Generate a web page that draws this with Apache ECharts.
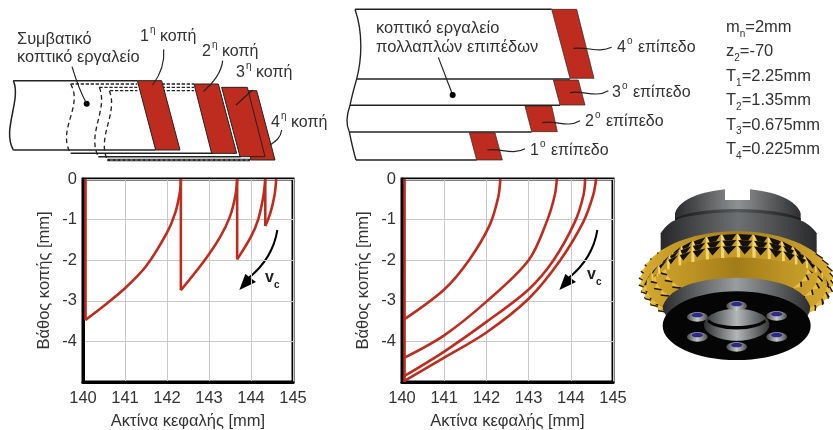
<!DOCTYPE html>
<html><head><meta charset="utf-8">
<style>html,body{margin:0;padding:0;background:#fff}#c{width:833px;height:430px}</style>
<script src="https://cdn.jsdelivr.net/npm/echarts@6/dist/echarts.min.js"></script>
</head><body><div id="c"></div>
<script>
// ----- data -----
const xTickLabels = ['140','141','142','143','144','145'];
const yTickLabels = ['0','-1','-2','-3','-4',''];
const xTitle = 'Ακτίνα κεφαλής [mm]';
const yTitle = 'Βάθος κοπής [mm]';

const edge = [[140.06,0],[140.06,-3.48]];
const edgeFull = [[140.06,0],[140.06,-5]];
const dropA2 = [[142.33,0],[142.33,-2.74]];
const dropA3 = [[143.67,0],[143.67,-1.98]];
const dropA4 = [[144.34,0],[144.34,-1.16]];
const cutA1 = [[140.06,-3.47],[140.5,-3.12],[141,-2.69],[141.5,-2.15],[142,-1.32],[142.2,-0.82],[142.31,-0.3],[142.33,0]];
const cutA2 = [[142.33,-2.74],[142.87,-2.04],[143.27,-1.42],[143.5,-0.92],[143.63,-0.4],[143.67,0]];
const cutA3 = [[143.67,-1.98],[144,-1.42],[144.17,-1],[144.29,-0.45],[144.34,0]];
const cutA4 = [[144.34,-1.16],[144.46,-0.84],[144.56,-0.4],[144.6,0]];

const levelB1 = [[140.06,-3.45],[141,-2.72],[141.6,-1.98],[142.08,-1.13],[142.28,-0.45],[142.33,0]];
const levelB2 = [[140.06,-4.4],[141,-3.85],[142,-3.02],[143,-2],[143.43,-1.05],[143.62,-0.4],[143.67,0]];
const levelB3 = [[140.06,-4.85],[141,-4.25],[142,-3.52],[143,-2.72],[143.59,-2],[144.1,-1.05],[144.3,-0.4],[144.34,0]];
const levelB4 = [[140.06,-4.97],[141,-4.4],[142,-3.78],[143,-2.95],[143.75,-2],[144.3,-1.05],[144.53,-0.4],[144.6,0]];

const seriesLeft = [edge, dropA2, dropA3, dropA4, cutA1, cutA2, cutA3, cutA4];
const seriesRight = [edgeFull, levelB1, levelB2, levelB3, levelB4];
const paramRows = [['m','n','=2mm'],['z','2','=-70'],['T','1','=2.25mm'],['T','2','=1.35mm'],['T','3','=0.675mm'],['T','4','=0.225mm']];

// ----- styles -----
const FONT = '"Liberation Sans", Arial, sans-serif';
const RED = '#bd2c1e', INK = '#333333';
const chart = echarts.init(document.getElementById('c'), null, {renderer:'canvas'});

const grids = [{left:83,top:179,width:210,height:203},{left:402,top:179,width:211,height:203}];
function mkX(i){return {gridIndex:i,type:'value',min:140,max:145,interval:1,
  axisLine:{show:true,onZero:false,lineStyle:{color:'#000',width:3}},axisTick:{show:false},
  splitLine:{show:true,lineStyle:{color:'#c9c9c9',width:1}},
  axisLabel:{color:INK,fontFamily:FONT,fontSize:16.5,margin:8,formatter:(v)=>xTickLabels[Math.round(v-140)]},
  name:xTitle,nameLocation:'middle',nameGap:31,nameTextStyle:{color:INK,fontFamily:FONT,fontSize:16.5}};}
function mkY(i){return {gridIndex:i,type:'value',min:-5,max:0,interval:1,
  axisLine:{show:true,onZero:false,lineStyle:{color:'#000',width:3}},axisTick:{show:false},
  splitLine:{show:true,lineStyle:{color:'#c9c9c9',width:1}},
  axisLabel:{color:INK,fontFamily:FONT,fontSize:16.5,margin:6,showMinLabel:true,formatter:(v)=>yTickLabels[Math.round(-v)]},
  name:yTitle,nameLocation:'middle',nameGap:30,nameRotate:90,nameTextStyle:{color:INK,fontFamily:FONT,fontSize:16.5}};}
function mkSeries(arr,i){return arr.map(d=>({type:'line',xAxisIndex:i,yAxisIndex:i,data:d,showSymbol:false,smooth:d.length>2?0.33:false,
  lineStyle:{color:RED,width:2.6},silent:true,z:3,clip:false,animation:false}));}

// ----- illustration helpers (decoration, not data) -----
const g = [];
function scaled(ox,oy,children,z){ g.push({type:'group',x:ox,y:oy,scaleX:1/3,scaleY:1/3,children,z:z||10}); }
const poly=(pts,fill,stroke,lw)=>({type:'polygon',shape:{points:pts},style:{fill:fill||'none',stroke:stroke||null,lineWidth:lw||0}});
const line=(pts,stroke,lw,dash)=>({type:'polyline',shape:{points:pts},style:{fill:'none',stroke:stroke||'#222',lineWidth:lw||4.5,lineDash:dash||null}});
const bez=(a,c1,c2,b,stroke,lw,dash)=>({type:'bezierCurve',shape:{x1:a[0],y1:a[1],cpx1:c1[0],cpy1:c1[1],cpx2:c2[0],cpy2:c2[1],x2:b[0],y2:b[1]},style:{fill:'none',stroke:stroke||'#222',lineWidth:lw||3.5,lineDash:dash||null}});
const dot=(x,y,r)=>({type:'circle',shape:{cx:x,cy:y,r:r||9},style:{fill:'#000'}});
function outline(cmds,fill){
  const pts=[]; let cur=null;
  cmds.forEach(c=>{
    if(c.length===2){cur=c;pts.push(c);}
    else{ for(let s=1;s<=14;s++){const t=s/14,u=1-t;
      pts.push([u*u*u*cur[0]+3*u*u*t*c[0]+3*u*t*t*c[2]+t*t*t*c[4],u*u*u*cur[1]+3*u*u*t*c[1]+3*u*t*t*c[3]+t*t*t*c[5]]);}
      cur=[c[4],c[5]]; }
  });
  return poly(pts,fill);
}
function label(x,y,rich){ g.push({type:'text',x,y,z:20,style:Object.assign({font:'16.4px '+FONT,fill:INK,verticalAlign:'middle'},rich)}); }
const ord=(n,s,w,gap)=>({text:`{a|${n}}{s|${s}}{a|${w}}`,rich:{a:{font:'16px '+FONT,fill:INK,lineHeight:20,verticalAlign:'bottom'},s:{font:'10px '+FONT,fill:INK,verticalAlign:'top',lineHeight:20,padding:[0,gap,0,1]}}});

// left schematic (coordinates in 3x space)
const D=[14,10];
scaled(0,0,[
 line([[40,242],[412,242]]), line([[40,450],[467,450]]),
 bez([40,242],[65,300],[5,390],[40,450],'#222',4.5),
 line([[212,252],[412,252]],'#222',4,[10,5]), line([[485,252],[582,252]],'#222',4,[10,5]),
 line([[298,262],[412,262]],'#222',4,[10,5]), line([[485,262],[582,262]],'#222',4,[10,5]),
 line([[330,272],[412,272]],'#222',4,[10,5]), line([[485,272],[582,272]],'#222',4,[10,5]),
 bez([212,252],[250,320],[170,390],[212,460],'#222',4,D),
 bez([298,262],[325,330],[260,400],[295,470],'#222',4,D),
 bez([328,272],[355,340],[290,410],[322,480],'#222',4,D),
 line([[212,460],[640,460]]), line([[295,470],[722,470]]),
 line([[322,480],[750,480]],'#222',7), line([[330,480],[750,480]],'#fff',1.5,[10,5]),
 poly([[745,272],[770,272],[825,480],[752,480]],RED,'#222',3),
 poly([[665,262],[742,262],[795,470],[720,470]],RED,'#222',3),
 poly([[582,252],[655,252],[710,460],[635,460]],RED,'#222',3),
 poly([[412,242],[485,242],[540,450],[467,450]],RED,'#222',3),
 dot(260,311),
 bez([216,200],[228,240],[240,275],[260,311],'#222',3.5),
 bez([491,148],[495,190],[480,225],[458,255],'#222',3.5),
 bez([668,182],[665,215],[640,250],[610,275],'#222',3.5),
 bez([758,270],[740,285],[725,300],[708,315],'#222',3.5),
 bez([845,390],[842,415],[825,425],[810,435],'#222',3.5)
]);
label(17,39,{text:'Συμβατικό'});
label(17,57.5,{text:'κοπτικό εργαλείο'});
label(140,35,ord('1','η',' κοπή',0));
label(202,50,ord('2','η',' κοπή',0));
label(236,71,ord('3','η',' κοπή',0));
label(271,121,ord('4','η',' κοπή',0));

// right schematic
scaled(340,0,[
 line([[45,28],[635,28]]), line([[50,237],[690,237]]), line([[30,316],[660,316]]), line([[28,396],[575,396]]), line([[48,480],[410,480]]),
 bez([45,28],[70,100],[65,180],[50,237],'#222',4), bez([50,237],[42,265],[35,290],[30,316],'#222',4),
 bez([30,316],[18,350],[18,375],[28,396],'#222',4), bez([28,396],[35,430],[42,460],[48,480],'#222',4),
 poly([[635,28],[710,28],[762,235],[690,235]],RED,'#222',2),
 poly([[640,240],[715,240],[735,315],[660,315]],RED,'#222',2),
 poly([[555,318],[635,318],[652,395],[575,395]],RED,'#222',2),
 poly([[388,398],[465,398],[487,480],[410,480]],RED,'#222',2),
 line([[295,172],[338,285]],'#222',3.5), dot(338,285),
 bez([700,145],[745,140],[775,160],[815,142],'#222',3.5),
 bez([690,278],[730,270],[765,295],[805,272],'#222',3.5),
 bez([607,368],[650,360],[680,385],[720,362],'#222',3.5),
 bez([442,450],[480,442],[515,468],[555,446],'#222',3.5)
]);
label(376,28,{text:'κοπτικό εργαλείο',font:'16.5px '+FONT});
label(376,47,{text:'πολλαπλών επιπέδων',font:'16.5px '+FONT});
label(617,46,ord('4','ο',' επίπεδο',1));
label(612,91,ord('3','ο',' επίπεδο',1));
label(585,120,ord('2','ο',' επίπεδο',1));
label(530,149,ord('1','ο',' επίπεδο',1));
paramRows.forEach((r,i)=>{
  g.push({type:'text',x:726,y:29+i*24.4,z:20,style:{verticalAlign:'middle',text:`{a|${r[0]}}{s|${r[1]}}{a|${r[2]}}`,
    rich:{a:{font:'16.5px '+FONT,fill:INK,lineHeight:20,verticalAlign:'top'},s:{font:'10px '+FONT,fill:INK,lineHeight:20,verticalAlign:'bottom',padding:[8,0,0,0]}}}});
});

// velocity arrows
function arrow(ox,dx){
  scaled(ox,170,[
   bez([832+dx,180],[825+dx,225],[800+dx,280],[745+dx,325],'#000',6),
   poly([[718+dx,360],[736+dx,312],[768+dx,336]],'#000')
  ],12);
}
arrow(0,0); arrow(340,-60);
function vc(x,y){ g.push({type:'text',x,y,z:20,style:{verticalAlign:'middle',text:'{a|v}{s|c}',rich:{a:{font:'bold 16px '+FONT,fill:'#222',lineHeight:20,verticalAlign:'top'},s:{font:'bold 10px '+FONT,fill:'#222',lineHeight:20,verticalAlign:'bottom',padding:[6,0,0,0]}}}}); }
vc(265,280); vc(587,277);

// cutter head picture
(function(){
 const ch=[];
 const grey=(a,b,c)=>({type:'linear',x:0,y:0,x2:1,y2:0,colorStops:[{offset:0,color:a},{offset:0.5,color:b},{offset:1,color:c}]});
 const g1=grey('#2a2a2c','#8f9294','#2e2e30');
 ch.push(outline([[105,100],[115,60,180,35,255,28],[255,60],[330,60],[330,28],[405,35,470,60,482,100],[482,180],[105,180]],g1));
 ch.push(outline([[105,115],[170,78,410,78,482,115],[482,180],[105,180]],grey('#18181a','#55585a','#1c1c1e')));
 ch.push(outline([[62,160],[80,130,105,118,130,112],[230,92,350,92,450,112],[480,118,510,130,530,160],[530,260],[62,260]],grey('#28282a','#6d7072','#2a2a2c')));
 ch.push({type:'ellipse',shape:{cx:290,cy:302,rx:286,ry:148},style:{fill:{type:'linear',x:0,y:0,x2:1,y2:0,colorStops:[{offset:0,color:'#d7ab30'},{offset:0.5,color:'#a27c18'},{offset:1,color:'#d7ab30'}]}}});
 const rows=[{cy:262,rx:214,ry:100,n:28,h:46},{cy:288,rx:244,ry:108,n:32,h:40},{cy:316,rx:272,ry:118,n:36,h:34}];
 const tooth=(r,t,t2)=>{
  const P=a=>[290+r.rx*Math.cos(a),r.cy+r.ry*Math.sin(a)];
  const A=P(t),B=P(t2),tm=(t+t2)/2,s=Math.sin(tm),c=Math.cos(tm);
  if(s<0.05){
   const h=r.h*(0.35+0.65*Math.abs(s));
   ch.push(poly([A,B,[B[0],B[1]+h],[A[0],A[1]+h]],'#c49a28'));
   ch.push(poly([A,[A[0]+(B[0]-A[0])*0.22,A[1]+(B[1]-A[1])*0.22],[A[0]+(B[0]-A[0])*0.22,A[1]+h],[A[0],A[1]+h]],'#f3d66a'));
   const C=[(A[0]+B[0])/2+c*8,(A[1]+B[1])/2+h*0.72];
   ch.push(poly([[A[0]+(B[0]-A[0])*0.1,A[1]],B,C],'#14110c'));
  }else{
   const C=[(A[0]+B[0])/2+c*16,(A[1]+B[1])/2+6];
   ch.push(poly([A,B,C],'#e8c044'));
   ch.push(line([A,C],'#1c1608',5));
  }
 };
 rows.forEach(r=>{
  const order=[...Array(r.n).keys()].map(k=>2*Math.PI*k/r.n).sort((x,y)=>Math.sin(x)-Math.sin(y));
  order.forEach(t=>tooth(r,t,t+2*Math.PI/r.n*0.98));
 });
 for(let k=0;k<44;k++){
  const t=2*Math.PI*k/44,t2=t+2*Math.PI/44;
  if(Math.sin(t)<-0.62) continue;
  const P=a=>[290+282*Math.cos(a),300+146*Math.sin(a)];
  const A=P(t),B=P(t2),m=(t+t2)/2;
  const C=[(A[0]+B[0])/2+Math.cos(m)*13,(A[1]+B[1])/2+5];
  ch.push(poly([A,B,C],'#e4ba3e'));
  ch.push(line([A,C],'#201a0a',4));
 }
 ch.push(outline([[68,378],[90,322,170,295,290,293],[410,295,490,322,510,378],[512,400,500,410,490,420],[90,420],[75,405,68,390,68,378]],grey('#2c2c2e','#9a9d9f','#2e2e30')));
 ch.push({type:'ellipse',shape:{cx:290,cy:437,rx:222,ry:103},style:{fill:'#050505'}});
 ch.push({type:'ellipse',shape:{cx:290,cy:434,rx:98,ry:48},style:{fill:grey('#2f2f30','#b4b7b9','#363637')}});
 ch.push(outline([[205,418],[235,445,345,445,375,418],[378,426],[345,456,235,456,202,426]],'#060606'));
 [[290,372],[172,405],[410,402],[172,465],[410,465],[290,495]].forEach(([x,y])=>{
  ch.push({type:'ellipse',shape:{cx:x,cy:y+6,rx:31,ry:14},style:{fill:grey('#4a4a4c','#c5c7c9','#4a4a4c')}});
  ch.push({type:'ellipse',shape:{cx:x,cy:y,rx:17,ry:7},style:{fill:'#2f2a8a'}});
 });
 scaled(640,180,ch,8);
})();

chart.setOption({
 animation:false,backgroundColor:'#fff',
 grid:grids.map(x=>Object.assign({show:true,outerBoundsMode:'none',backgroundColor:'#fff',borderColor:'#000',borderWidth:3},x)),
 xAxis:[mkX(0),mkX(1)],yAxis:[mkY(0),mkY(1)],
 series:[...mkSeries(seriesLeft,0),...mkSeries(seriesRight,1)],
 graphic:{elements:g}
});
</script></body></html>
